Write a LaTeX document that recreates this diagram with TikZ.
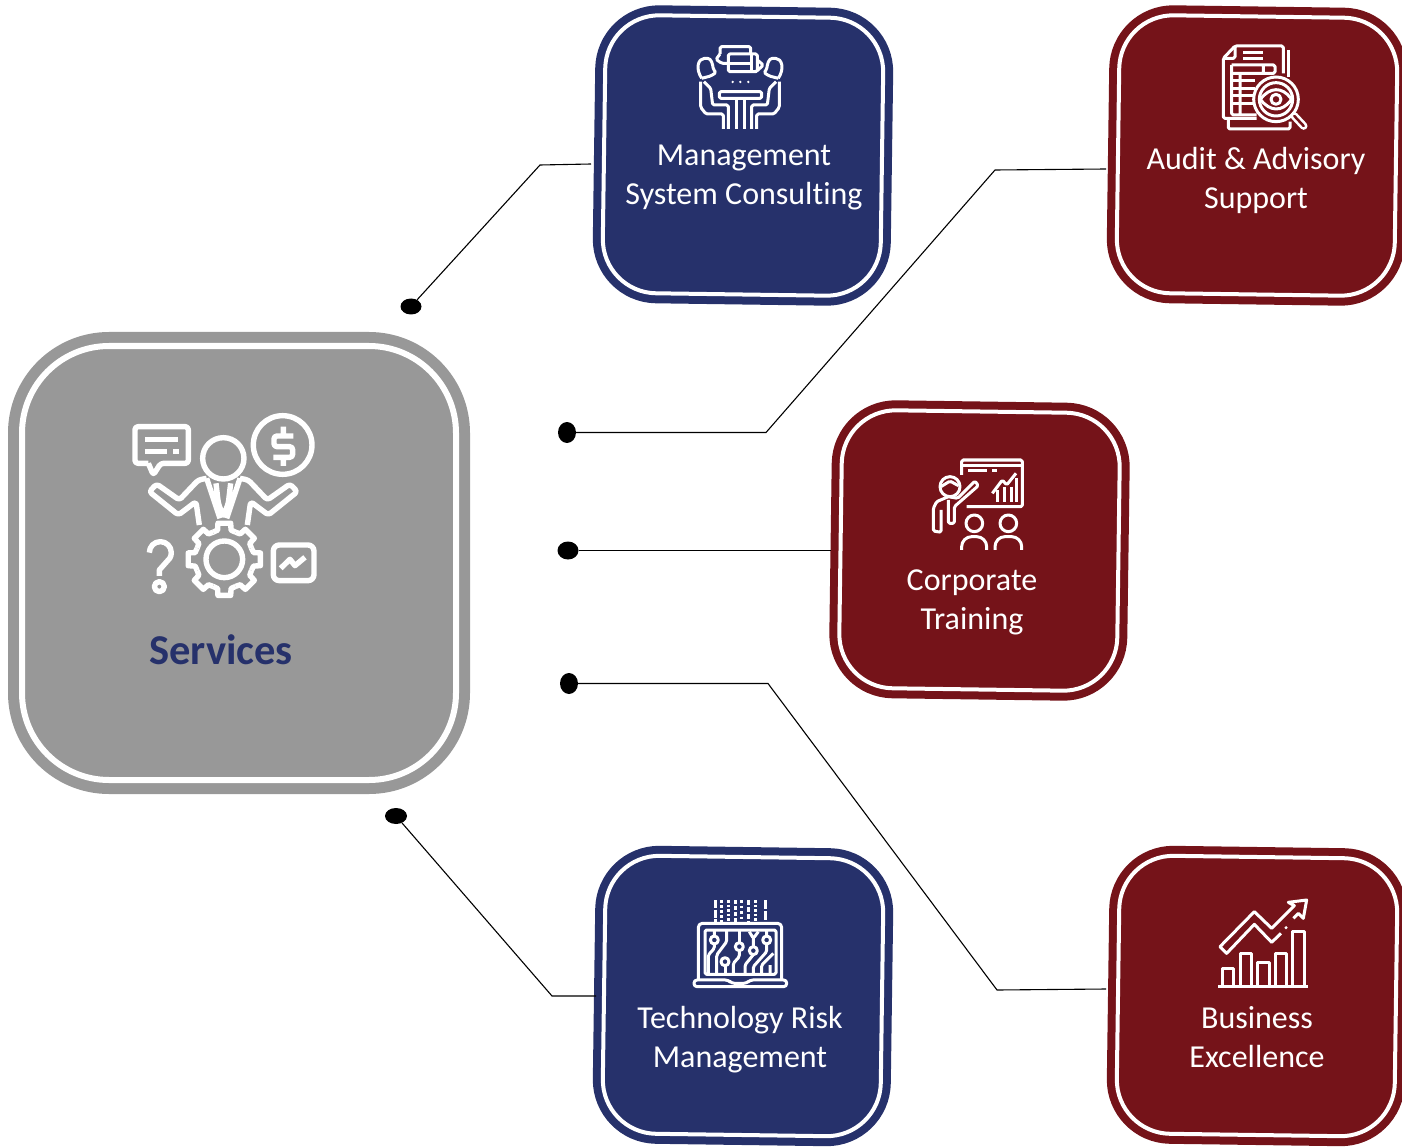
\documentclass[tikz,border=0pt]{standalone}
\usepackage{fontspec}
\setmainfont[Ligatures=NoCommon]{Carlito}
\usetikzlibrary{positioning}
\usetikzlibrary{shapes.geometric}

\definecolor{NavyBox}{RGB}{38,49,107}
\definecolor{RedBox}{RGB}{117,19,25}
\definecolor{GreyBox}{RGB}{152,152,152}

\tikzset{
    x=1pt, y=-1pt,
    box/.style={draw=#1, fill=#1, line width=8pt, double=white, double distance=4pt,
                rounded corners=54pt, minimum width=278pt, minimum height=278pt,
                outer sep=10pt, rotate=-0.8},
    bigbox/.style={draw=GreyBox, fill=GreyBox, line width=11pt, double=white, double distance=6pt,
                rounded corners=87pt, minimum width=434pt, minimum height=434pt, outer sep=14pt},
    boxtext/.style={text=white, align=center, font=\fontsize{32}{39}\selectfont},
    dot/.style={ellipse, fill=black, inner sep=0pt},
    link/.style={draw=black, line width=1.1pt},
    icon/.style={draw=white, line width=3pt, line join=round, rounded corners=1.5pt},
    bigicon/.style={draw=white, line width=5.4pt, line join=round, rounded corners=3pt},
}

\begin{document}
\begin{tikzpicture}
    \useasboundingbox (0,0) rectangle (1402,1147);

    %Boxes
    \node [bigbox] (Services) at (239,563) {};
    \node [box=NavyBox] (Consulting) at (743,155.5) {};
    \node [box=RedBox] (Audit) at (1257,155.5) {};
    \node [box=RedBox] (Training) at (979.5,550.5) {};
    \node [box=NavyBox] (TechRisk) at (743,996) {};
    \node [box=RedBox] (Excellence) at (1257,996) {};

    %Labels
    \node [text=NavyBox, font=\fontsize{42.5}{48}\selectfont\bfseries] (ServicesLabel) at (221,650) {Services};
    \node [boxtext] (ConsultingLabel) at (744,177.5) {Management\\System Consulting};
    \node [boxtext] (AuditLabel) at (1256,180.5) {Audit \& Advisory\\Support};
    \node [boxtext] (TrainingLabel) at (972,602.5) {Corporate\\Training};
    \node [boxtext] (TechRiskLabel) at (740,1040) {Technology Risk\\Management};
    \node [boxtext] (ExcellenceLabel) at (1257,1037.5) {Business\\Excellence};

    %Dots
    \node [dot, minimum width=21pt, minimum height=16pt] (DotA) at (411,306.5) {};
    \node [dot, minimum width=18pt, minimum height=21pt] (DotB) at (567,432.5) {};
    \node [dot, minimum width=21pt, minimum height=18pt] (DotC) at (568,550.5) {};
    \node [dot, minimum width=18pt, minimum height=21pt] (DotD) at (569,683.5) {};
    \node [dot, minimum width=22pt, minimum height=16pt] (DotE) at (396,816) {};

    %Bends
    \coordinate (BendA) at (540,165);
    \coordinate (EndA) at (591,164);
    \coordinate (BendB1) at (766,432.5);
    \coordinate (BendB2) at (995,170);
    \coordinate (EndB) at (1106,169);
    \coordinate (BendD1) at (768,683.5);
    \coordinate (BendD2) at (997,990);
    \coordinate (EndD) at (1106,989);
    \coordinate (BendE) at (552,996);
    \coordinate (EndE) at (596,996);

    %Connectors
    \draw [link] (DotA) -- (BendA) -- (EndA);
    \draw [link] (DotB) -- (BendB1) -- (BendB2) -- (EndB);
    \draw [link] (DotC) -- (DotC -| Training.west);
    \draw [link] (DotD) -- (BendD1) -- (BendD2) -- (EndD);
    \draw [link] (DotE) -- (BendE) -- (EndE);

    %-------------------------------------------
    %Services icon
    \begin{scope}[shift={(110,400)}, x=0.3333pt, y=-0.3333pt]
        \draw [bigicon] (115,190) -- (75,190) -- (75,80) -- (235,80) -- (235,190) -- (152,190) -- (130,225) -- (115,190);
        \draw [bigicon] (105,118) -- (205,118) (105,155) -- (170,155) (190,155) -- (208,155);
        \draw [bigicon] (518,135) circle (88);
        \draw [bigicon] (550,108) -- (492,108) -- (492,140) -- (548,140) -- (548,172) -- (490,172) (520,80) -- (520,108) (520,172) -- (520,198);
        \draw [bigicon] (340,175) circle (62);
        \draw [bigicon] (290,235) -- (265,240) -- (208,300) -- (140,252) -- (118,275) -- (205,345) -- (258,305) -- (268,375);
        \draw [bigicon] (390,235) -- (415,240) -- (472,300) -- (540,252) -- (562,275) -- (475,345) -- (422,305) -- (412,375);
        \draw [bigicon] (290,235) -- (330,355) (390,235) -- (350,355) (318,250) -- (325,310) -- (340,350) -- (355,310) -- (362,250);
        \foreach \a in {0,45,...,315}
            \draw [bigicon, rounded corners=0pt, shift={(343,478)}]
                (\a-22.5:88) -- (\a-13:90) -- (\a-10:110) -- (\a+10:110) -- (\a+13:90) -- (\a+22.5:88);
        \draw [bigicon] (343,478) circle (55);
        \draw [bigicon, rounded corners=0pt] (118,458) arc (180:390:33) -- (148,510) -- (148,528);
        \draw [bigicon] (148,560) circle (15);
        \draw [bigicon, rounded corners=6pt] (490,435) rectangle (612,542);
        \draw [bigicon, rounded corners=0pt] (512,505) -- (540,478) -- (555,497) -- (585,472);
    \end{scope}

    %Consulting icon
    \begin{scope}[shift={(680,30)}, x=0.3333pt, y=-0.3333pt]
        \draw [icon] (120,72) -- (120,50) -- (212,50) -- (212,72);
        \draw [icon] (120,72) -- (108,88) -- (125,100) -- (145,100);
        \draw [icon] (145,72) rectangle (232,125);
        \draw [icon] (232,90) -- (250,105) -- (232,122);
        \draw [icon] (145,100) -- (215,100) (215,72) -- (215,125);
        \foreach \s/\o in {1/0,-1/360}{
            \begin{scope}[shift={(\o,0)}, xscale=\s]
                \draw [icon] (65,145) .. controls (45,115) and (55,85) .. (78,85) .. controls (95,85) and (98,105) .. (100,118) -- (108,128) -- (92,138) -- (65,145);
                \draw [icon] (62,155) -- (62,232) -- (78,252) -- (130,252) -- (130,297);
                \draw [icon] (72,155) -- (92,175) -- (98,225) -- (145,225) -- (145,297);
            \end{scope}
        }
        \draw [icon] (118,185) rectangle (245,205);
        \draw [icon] (170,205) -- (170,297) (192,205) -- (192,297);
        \foreach \dx in {158,181,205}
            \fill [white] (\dx,156) circle (4);
    \end{scope}

    %Audit icon
    \begin{scope}[shift={(1205,30)}, x=0.3333pt, y=-0.3333pt]
        \draw [icon] (235,130) -- (235,48) -- (90,48) -- (55,85) -- (55,265) -- (155,265);
        \draw [icon] (90,48) -- (90,85) -- (55,85);
        \draw [icon] (250,60) -- (250,140);
        \draw [icon] (70,265) -- (70,297) -- (255,297) -- (255,275);
        \draw [icon] (115,68) -- (175,68) (115,85) -- (175,85);
        \draw [icon] (80,105) -- (210,105) -- (210,130) -- (80,130) (175,105) -- (175,130);
        \draw [icon] (80,105) -- (80,255) -- (155,255) (105,130) -- (105,255);
        \foreach \ry in {152,175,197,220}
            \draw [icon] (80,\ry) -- (150,\ry);
        \draw [icon, fill=RedBox] (213,208) circle (67);
        \draw [icon] (213,208) circle (50);
        \draw [icon] (166,208) .. controls (195,170) and (231,170) .. (260,208) .. controls (231,246) and (195,246) .. (166,208);
        \draw [icon] (213,208) circle (15);
        \draw [icon, line width=2.6pt, line cap=round, double=RedBox, double distance=2.5pt] (268,258) -- (296,288);
    \end{scope}

    %Training icon
    \begin{scope}[shift={(915,445)}, x=0.3333pt, y=-0.3333pt]
        \draw [icon] (140,90) -- (140,45) -- (322,45) -- (322,185) -- (155,185);
        \draw [icon] (140,62) -- (322,62) (160,78) -- (215,78) (232,78) -- (245,78);
        \draw [icon] (232,145) -- (262,105) -- (275,120) -- (303,85);
        \draw [icon] (248,135) -- (248,170) (268,125) -- (268,170) (288,125) -- (288,170) (305,100) -- (305,170);
        \draw [icon] (105,125) circle (30);
        \draw [icon] (78,125) -- (105,108) -- (130,122);
        \draw [icon] (100,155) -- (65,170) -- (55,190) -- (55,258) -- (78,262) -- (78,195);
        \draw [icon] (100,165) -- (100,235) -- (118,235) -- (118,185) -- (190,122) -- (180,108) -- (128,160) -- (100,155);
        \draw [icon] (178,235) circle (25) (280,235) circle (25);
        \draw [icon, rounded corners=10pt] (140,315) -- (140,275) -- (215,275) -- (215,315);
        \draw [icon, rounded corners=10pt] (240,315) -- (240,275) -- (320,275) -- (320,315);
    \end{scope}

    %TechRisk icon
    \begin{scope}[shift={(680,885)}, x=0.3333pt, y=-0.3333pt]
        \foreach \cx/\dashes in {105/{on 8pt off 1.5pt},125/{on 3pt off 2pt},145/{on 2.5pt off 2pt},165/{on 4pt off 2pt},185/{on 2.5pt off 3pt},205/{on 5pt off 2pt},225/{on 2.5pt off 2pt},255/{on 9pt off 2pt}}
            \draw [white, line width=3pt, dash pattern/.expanded=\dashes] (\cx,45) -- (\cx,110);
        \draw [icon, rounded corners=4pt] (55,285) -- (55,115) -- (305,115) -- (305,285);
        \draw [icon] (75,135) rectangle (288,268);
        \draw [icon, rounded corners=3pt] (42,285) -- (145,285) -- (155,295) -- (200,295) -- (210,285) -- (320,285) -- (320,305) -- (42,305) -- cycle;
        \draw [icon] (103,165) circle (12) (178,185) circle (12) (220,197) circle (12) (260,165) circle (12) (135,230) circle (12);
        \draw [icon] (103,135) -- (103,153) (103,177) -- (103,190) -- (85,210) -- (85,268);
        \draw [icon] (140,135) -- (140,170) -- (110,210) -- (110,268);
        \draw [icon] (135,242) -- (135,268) (178,135) -- (178,173);
        \draw [icon] (178,197) -- (178,215) -- (160,235) -- (160,268);
        \draw [icon] (208,140) -- (220,160) -- (235,140) (220,160) -- (220,185);
        \draw [icon] (220,209) -- (195,240) -- (195,268);
        \draw [icon] (260,135) -- (260,153) (260,177) -- (260,200) -- (220,245) -- (220,268);
        \draw [icon] (280,205) -- (245,240) -- (245,268) (270,240) -- (270,268);
    \end{scope}

    %Excellence icon
    \begin{scope}[shift={(1205,885)}, x=0.3333pt, y=-0.3333pt]
        \draw [icon, line width=3.4pt] (40,305) -- (308,305);
        \foreach \lft/\rgt/\tp in {52/85/250,105/140/205,158/192/232,210/245/205,262/298/140}
            \draw [icon, rounded corners=0pt] (\lft,305) -- (\lft,\tp) -- (\rgt,\tp) -- (\rgt,305);
        \draw [icon, rounded corners=0pt] (265,100) -- (280,85) -- (295,100) -- (305,45) -- (250,52) -- (268,62) -- (200,130) -- (148,80) -- (45,185) -- (65,205) -- (148,118) -- (200,172) -- (228,145);
        \fill [white] (243,128) circle (5);
    \end{scope}

\end{tikzpicture}
\end{document}
